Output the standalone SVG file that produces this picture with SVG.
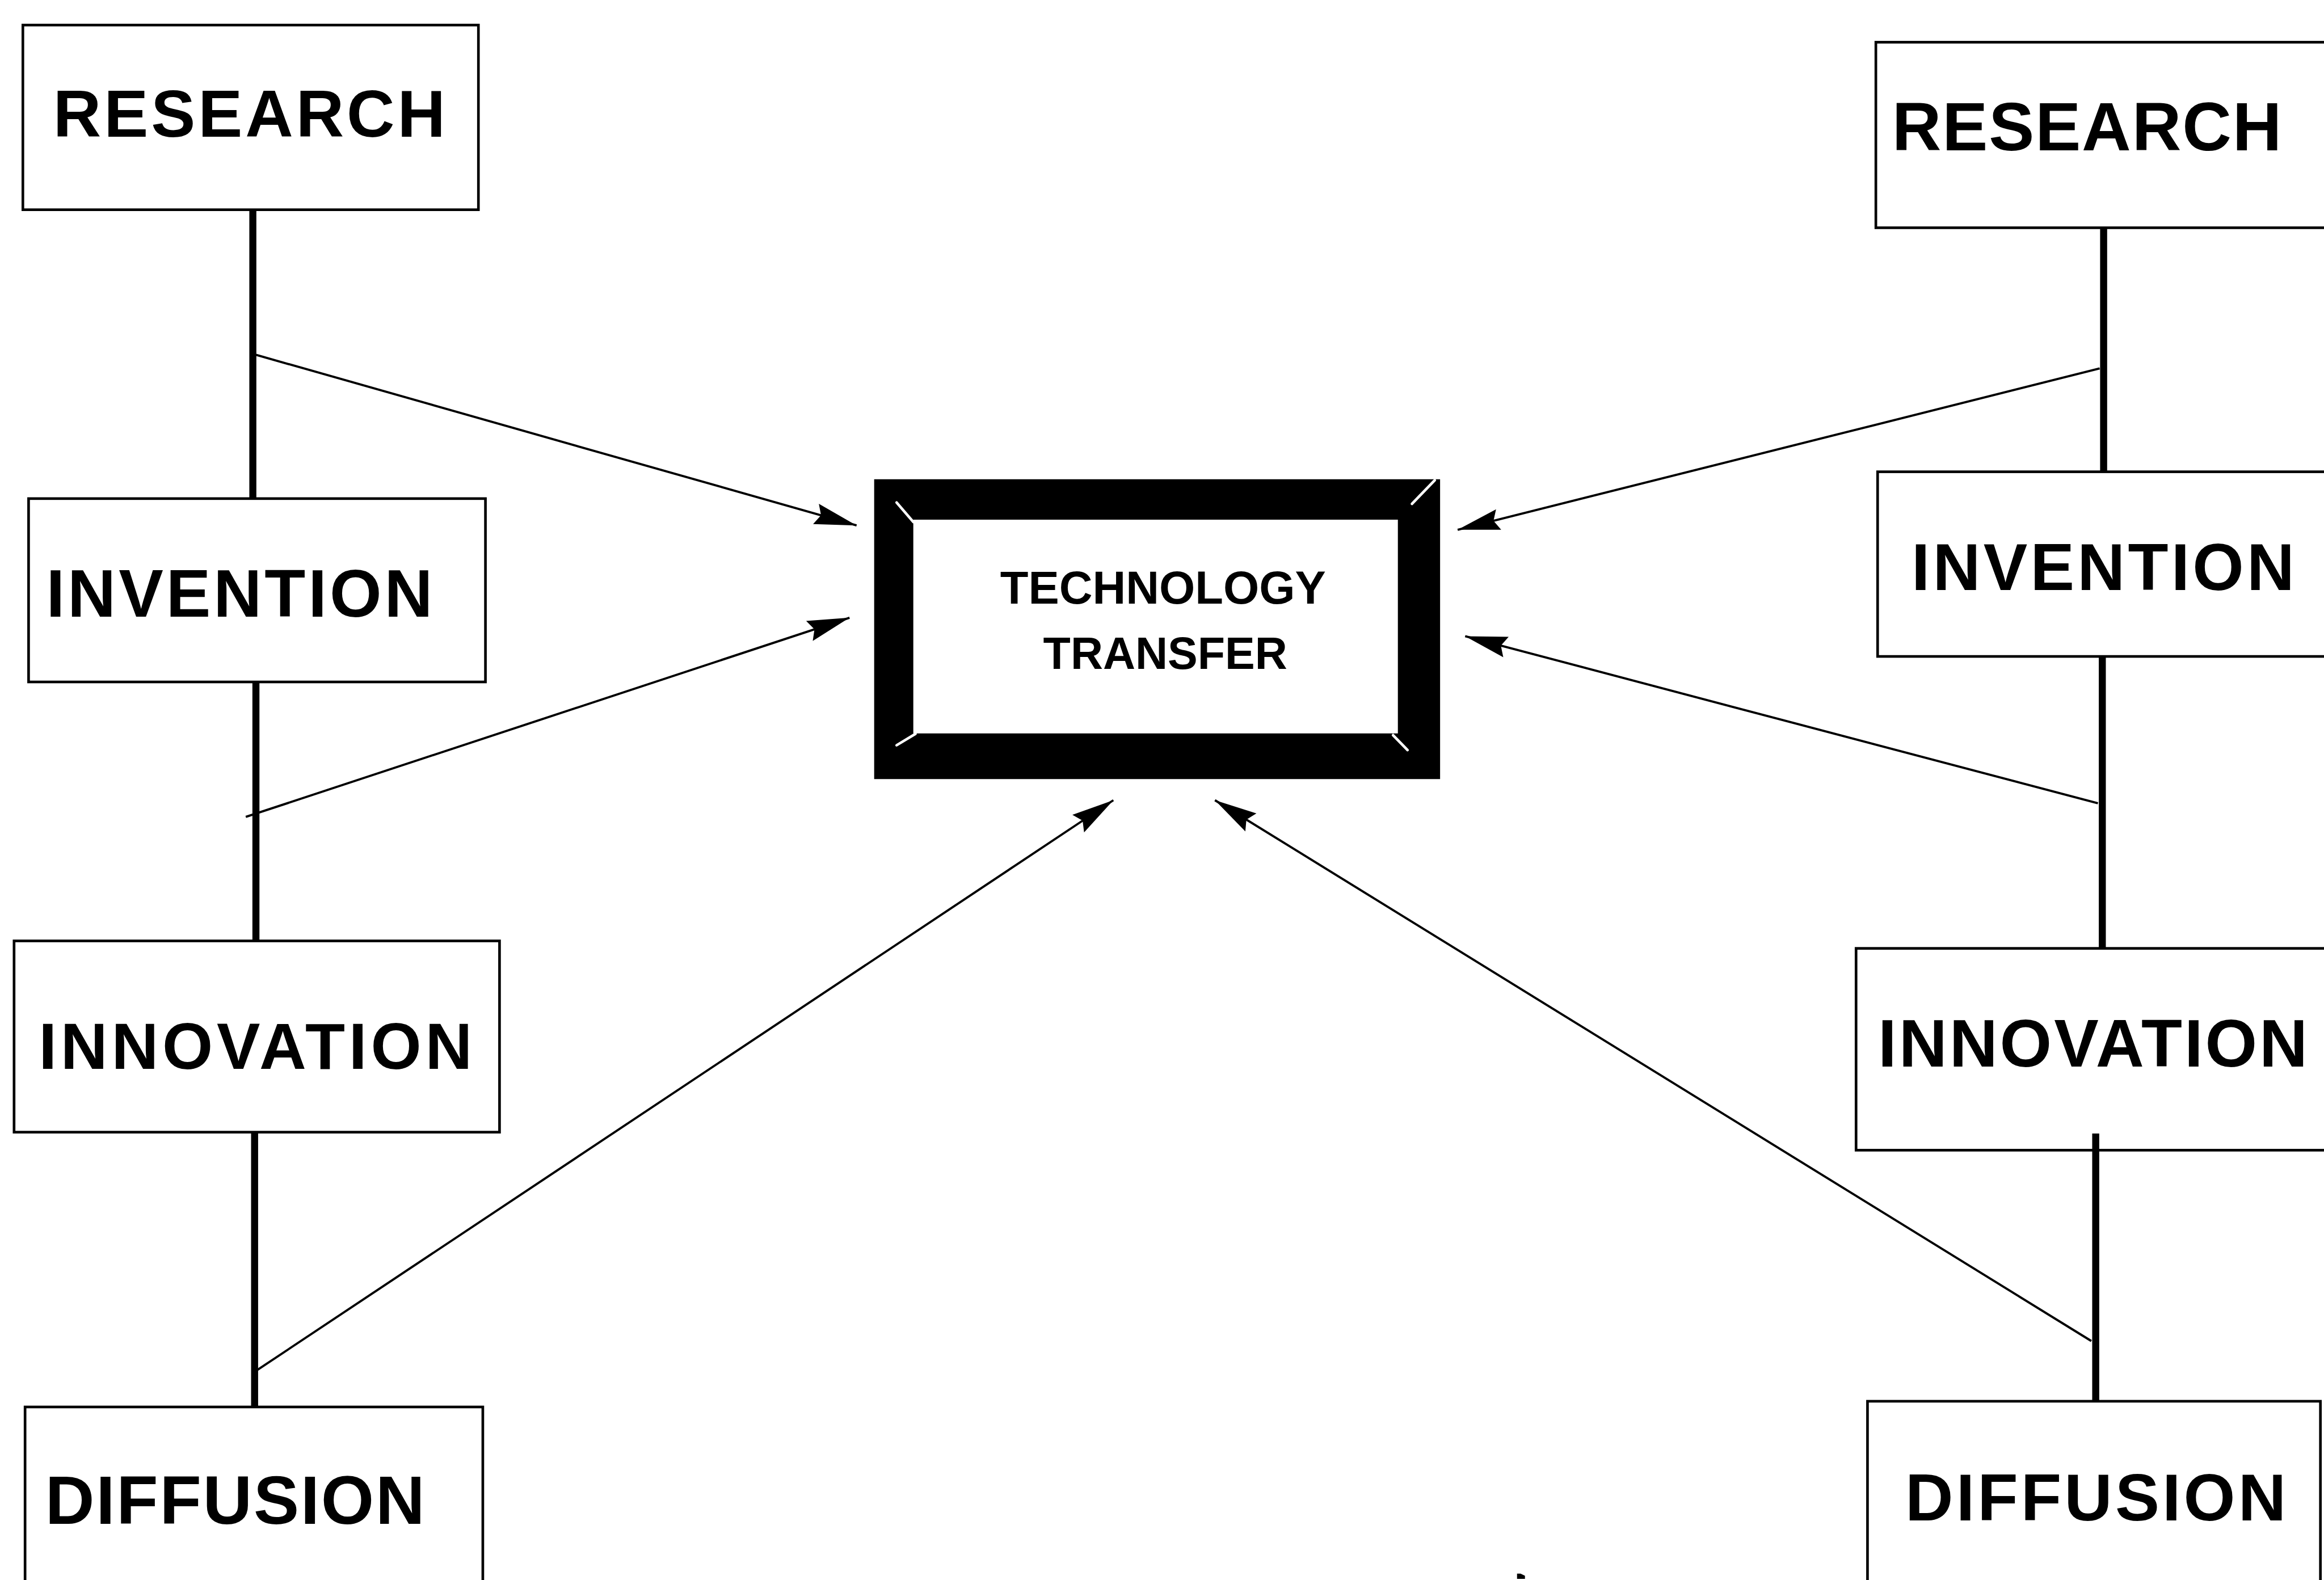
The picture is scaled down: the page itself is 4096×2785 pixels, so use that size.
<svg xmlns="http://www.w3.org/2000/svg" width="4096" height="2785" viewBox="0 0 4096 2785">
<defs>
<style>
.box{fill:#fff;stroke:#000;stroke-width:6}
.lbl{font-family:"Liberation Sans",Arial,Helvetica,sans-serif;font-weight:bold;fill:#000}
.stem{stroke:#000;stroke-width:16;fill:none}
.arr{stroke:#000;stroke-width:5;fill:none;marker-end:url(#ah)}
.bevel{stroke:#fff;stroke-width:6;stroke-linecap:round}
</style>
<marker id="ah" viewBox="-100 -26 102 52" refX="0" refY="0" markerWidth="102" markerHeight="52" markerUnits="userSpaceOnUse" orient="auto">
<path d="M0,0 L-96,-24 L-84,0 L-96,24 Z" fill="#000"/>
</marker>
</defs>
<rect width="4096" height="2785" fill="#fff"/>
<g transform="scale(0.775)">
<g id="left-research"><rect class="box" x="52" y="57" width="1036" height="420"/><text class="lbl" x="121" y="311" font-size="151" textLength="892" lengthAdjust="spacing">RESEARCH</text></g>
<g id="left-invention"><rect class="box" x="65" y="1134" width="1039" height="417"/><text class="lbl" x="105" y="1402" font-size="152" textLength="879" lengthAdjust="spacing">INVENTION</text></g>
<g id="left-innovation"><rect class="box" x="32" y="2140" width="1104" height="435"/><text class="lbl" x="88" y="2431" font-size="148" textLength="986" lengthAdjust="spacing">INNOVATION</text></g>
<g id="left-diffusion"><rect class="box" x="57" y="3200" width="1041" height="450"/><text class="lbl" x="103" y="3466" font-size="155" textLength="863" lengthAdjust="spacing">DIFFUSION</text></g>
<g id="right-research"><rect class="box" x="4266" y="96" width="1100" height="422"/><text class="lbl" x="4303" y="342" font-size="155" textLength="886" lengthAdjust="spacing">RESEARCH</text></g>
<g id="right-invention"><rect class="box" x="4270" y="1073" width="1100" height="420"/><text class="lbl" x="4347" y="1342" font-size="150" textLength="871" lengthAdjust="spacing">INVENTION</text></g>
<g id="right-innovation"><rect class="box" x="4221" y="2157" width="1150" height="459"/><text class="lbl" x="4271" y="2426" font-size="152" textLength="977" lengthAdjust="spacing">INNOVATION</text></g>
<g id="right-diffusion"><rect class="box" x="4247" y="3187" width="1030" height="450"/><text class="lbl" x="4333" y="3458" font-size="151" textLength="866" lengthAdjust="spacing">DIFFUSION</text></g>
<g id="technology-transfer">
<path d="M1988,1090 H3275 V1772 H1988 Z M2077,1182 V1668 H3179 V1182 Z" fill="#000" fill-rule="evenodd"/>
<line class="bevel" x1="2039" y1="1143" x2="2077" y2="1187"/>
<line class="bevel" x1="3263" y1="1092" x2="3211" y2="1146"/>
<line class="bevel" x1="2039" y1="1695" x2="2082" y2="1669"/>
<line class="bevel" x1="3168" y1="1672" x2="3201" y2="1706"/>
<text class="lbl" x="2645" y="1373" font-size="105" text-anchor="middle">TECHNOLOGY</text>
<text class="lbl" x="2650" y="1521" font-size="102" text-anchor="middle">TRANSFER</text>
</g>
<g id="connectors">
<line class="stem" x1="575" y1="477" x2="575" y2="1134"/>
<line class="stem" x1="582" y1="1551" x2="582" y2="2140"/>
<line class="stem" x1="579" y1="2575" x2="579" y2="3200"/>
<line class="stem" x1="4784" y1="518" x2="4784" y2="1073"/>
<line class="stem" x1="4781" y1="1493" x2="4781" y2="2157"/>
<line class="stem" x1="4766" y1="2578" x2="4766" y2="3187"/>
<path class="arr" d="M582,807 L1948,1195"/>
<path class="arr" d="M559,1858 L1932,1405"/>
<path class="arr" d="M585,3116 L2532,1820"/>
<path class="arr" d="M4775,838 L3315,1205"/>
<path class="arr" d="M4771,1827 L3332,1447"/>
<path class="arr" d="M4756,3050 L2763,1820"/>
</g>
<path d="M3450,3579 L3458,3579 L3468,3584 L3468,3591 L3450,3591 Z" fill="#000"/>
</g>
</svg>
